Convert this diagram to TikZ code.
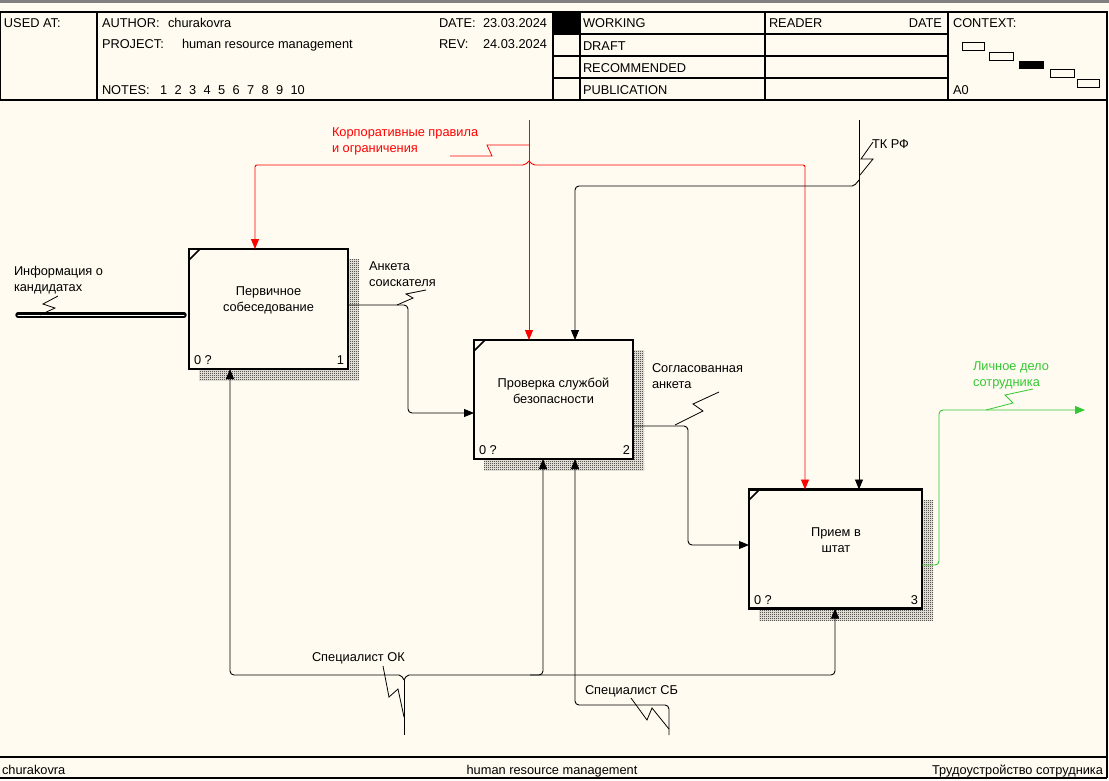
\documentclass[tikz,border=0pt]{standalone}
\usepackage{fontspec}
\setmainfont{Liberation Sans}
\usetikzlibrary{arrows.meta,patterns,calc}
\definecolor{bg}{RGB}{255,251,240}
\definecolor{idefred}{RGB}{255,0,0}
\definecolor{idefgreen}{RGB}{51,200,51}
\pgfdeclarepatternformonly{fcheck}{\pgfpointorigin}{\pgfpoint{2pt}{2pt}}{\pgfpoint{2pt}{2pt}}{%
  \pgfpathrectangle{\pgfpointorigin}{\pgfpoint{1pt}{1pt}}%
  \pgfpathrectangle{\pgfpoint{1pt}{1pt}}{\pgfpoint{1pt}{1pt}}%
  \pgfusepath{fill}}
\begin{document}
\begin{tikzpicture}[x=1pt,y=-1pt,
  font=\fontsize{12.8}{16}\selectfont,
  every node/.style={inner sep=0pt,outer sep=0pt},
  box/.style={draw,line width=2.4pt,fill=bg,inner sep=0pt},
  shadowfill/.style={pattern=fcheck,pattern color=black},
  conn/.style={line width=0.9pt,rounded corners=4pt},
  arr/.style={-{Triangle[length=10pt,width=8pt]}},
  lbl/.style={anchor=base west,align=left},
  sq/.style={line width=0.8pt},
  hdr/.style={line width=1.2pt},
]
% background
\fill[bg] (0,0) rectangle (1109,780);
\fill[black!50] (0,0) rectangle (1109,2.5);
\useasboundingbox (0,0) rectangle (1109,780);

% ---------- header ----------
\draw[hdr] (0,12) rectangle (1107,100);
\foreach \xx in {97,553,580,765,948} \draw[hdr] (\xx,12) -- (\xx,100);
\foreach \yy in {34,56,78} \draw[hdr] (553,\yy) -- (948,\yy);
\fill (553,12) rectangle (580,34);
\draw[hdr] (1107,100) -- (1107,778);
\draw[hdr] (0,757) -- (1107,757);
\draw[hdr] (0,778) -- (1107,778);

\node[lbl] (usedat) at (4,27) {USED AT:};
\node[lbl] (author) at (102,27) {AUTHOR:};
\node[lbl] (authorv) at (168,27) {churakovra};
\node[lbl] (project) at (102,48) {PROJECT:};
\node[lbl] (projectv) at (182,48) {human resource management};
\node[lbl] (notes) at (102,94) {NOTES:};
\foreach \n/\xx in {1/160,2/174.5,3/189,4/203.5,5/218,6/232.5,7/247,8/261.5,9/276,10/290.5}
  \node[lbl] (note\n) at (\xx,94) {\n};
\node[lbl] (date) at (439,27) {DATE:};
\node[lbl] (datev) at (483,27) {23.03.2024};
\node[lbl] (rev) at (439,48) {REV:};
\node[lbl] (revv) at (483,48) {24.03.2024};
\node[lbl] (working) at (583,27) {WORKING};
\node[lbl] (draft) at (583,50) {DRAFT};
\node[lbl] (recom) at (583,72) {RECOMMENDED};
\node[lbl] (publ) at (583,94) {PUBLICATION};
\node[lbl] (reader) at (769,27) {READER};
\node[anchor=base east] (rdate) at (942,27) {DATE};
\node[lbl] (context) at (953,27) {CONTEXT:};
\node[lbl] (a0) at (953,94) {A0};
\draw[line width=0.9pt] (962,42) rectangle (984,50);
\draw[line width=0.9pt] (989,52) rectangle (1013,60);
\fill (1019,61) rectangle (1044,69);
\draw[line width=0.9pt] (1050,69) rectangle (1074,77);
\draw[line width=0.9pt] (1077,79) rectangle (1099,87);

% footer
\node[lbl] (fauthor) at (2,774) {churakovra};
\node[anchor=base] (fproj) at (552,774) {human resource management};
\node[anchor=base east] (ftitle) at (1103,774) {Трудоустройство сотрудника};

% ---------- shadows ----------
\fill[shadowfill] (199,259) rectangle (359,380);
\fill[shadowfill] (484,350) rectangle (644,470);
\fill[shadowfill] (759,500) rectangle (933,620);

% ---------- boxes ----------
\node[box,minimum width=159pt,minimum height=120pt] (b1) at (268.5,309) {};
\node[box,minimum width=159pt,minimum height=119pt] (b2) at (553.5,399.5) {};
\node[box,minimum width=173pt,minimum height=119pt] (b3) at (835.5,549) {};
\draw[line width=1.5pt] (189,260) -- (200,249);
\draw[line width=1.5pt] (474,351) -- (485,340);
\draw[line width=1.5pt] (749,500) -- (760,489);

\node[align=center] (t1) at (268.5,300) {Первичное\\собеседование};
\node[align=center] (t2) at (553.5,391) {Проверка службой\\безопасности};
\node[align=center] (t3) at (836,540) {Прием в\\штат};
\node[lbl] (z1) at (194,364) {0 ?};
\node[anchor=base east] (n1) at (344,364) {1};
\node[lbl] (z2) at (479,454) {0 ?};
\node[anchor=base east] (n2) at (630,454) {2};
\node[lbl] (z3) at (754,604) {0 ?};
\node[anchor=base east] (n3) at (918,604) {3};

% ---------- coordinates ----------
\coordinate (inL) at (18,315);
\coordinate (crtop) at (529,120);
\coordinate (crj) at (529,161);
\coordinate (crl) at (255,165);
\coordinate (crr) at (805,165);
\coordinate (tktop) at (859,120);
\coordinate (tkj) at (859,180);
\coordinate (tkl) at (575,186);
\coordinate (a1) at (408,305);
\coordinate (a2) at (408,413);
\coordinate (s1) at (688,426);
\coordinate (s2) at (688,545);
\coordinate (g1) at (939,565);
\coordinate (g2) at (939,410);
\coordinate (gout) at (1085,410);
\coordinate (okb) at (404,735);
\coordinate (okj) at (404,680);
\coordinate (okl) at (230,675);
\coordinate (okr) at (835,675);
\coordinate (okm) at (543,675);
\coordinate (sbb) at (669,735);
\coordinate (sb1) at (669,705);
\coordinate (sb2) at (575,705);

% ---------- input ----------
\draw[line width=2.2pt,double=white,double distance=1pt,line cap=round] (inL) -- ($(b1.west |- inL)+(-5,0)$);
\node[lbl] (linfo) at (14,291) {Информация о\\кандидатах};
\draw[sq] (58,296) -- (43,304) -- (55,308) -- (40,315);

% ---------- controls ----------
\draw[conn,idefred,arr] (crtop) -- (crtop |- b2.north);
\draw[conn,idefred,arr,rounded corners=2pt] (crj) -- (525,165) -- (crl) [rounded corners=4pt] -- (crl |- b1.north);
\draw[conn,idefred,arr,rounded corners=2pt] (crj) -- (533,165) -- (crr) [rounded corners=4pt] -- (crr |- b3.north);
\node[lbl,text=idefred] (lcorp) at (332,152) {Корпоративные правила\\и ограничения};
\draw[sq,idefred] (450,156) -- (492,156) -- (487,145) -- (529,145);

\draw[conn,arr] (tktop) -- (tktop |- b3.north);
\draw[conn,arr,rounded corners=2pt] (tkj) -- (854,186) [rounded corners=4pt] -- (tkl) -- (tkl |- b2.north);
\node[lbl] (ltk) at (872,148) {ТК РФ};
\draw[sq] (873,142) -- (861,159) -- (873,159) -- (860,175);

% ---------- outputs / inputs ----------
\draw[conn,arr] (b1.east |- a1) -- (a1) -- (a2) -- (b2.west |- a2);
\node[lbl] (lank) at (369,286) {Анкета\\соискателя};
\draw[sq] (426,290) -- (406,294) -- (413,298) -- (397,305);

\draw[conn,arr] (b2.east |- s1) -- (s1) -- (s2) -- (b3.west |- s2);
\node[lbl] (lsogl) at (652,388) {Согласованная\\анкета};
\draw[sq] (719,392) -- (693,404) -- (703,411) -- (675,425);

\draw[conn,idefgreen,arr] (b3.east |- g1) -- (g1) -- (g2) -- (gout);
\node[lbl,text=idefgreen] (lgreen) at (973,386) {Личное дело\\сотрудника};
\draw[sq,idefgreen] (1033,389) -- (1005,395) -- (1013,403) -- (986,410);

% ---------- mechanisms ----------
\draw[conn] (okb) -- (okj);
\draw[conn,arr,rounded corners=2pt] (okj) -- (401,675) [rounded corners=4pt] -- (okl) -- (okl |- b1.south);
\draw[conn,arr,rounded corners=2pt] (okj) -- (407,675) [rounded corners=4pt] -- (okr) -- (okr |- b3.south);
\draw[conn,arr] (530,675) -- (okm) -- (okm |- b2.south);
\node[lbl] (lok) at (312,661) {Специалист ОК};
\draw[sq] (383,666) -- (389,697) -- (398,689) -- (404,717);

\draw[conn,arr] (sbb) -- (sb1) -- (sb2) -- (sb2 |- b2.south);
\node[lbl] (lsb) at (585,694) {Специалист СБ};
\draw[sq] (631,698) -- (647,720) -- (652,708) -- (669,729);
\end{tikzpicture}
\end{document}
